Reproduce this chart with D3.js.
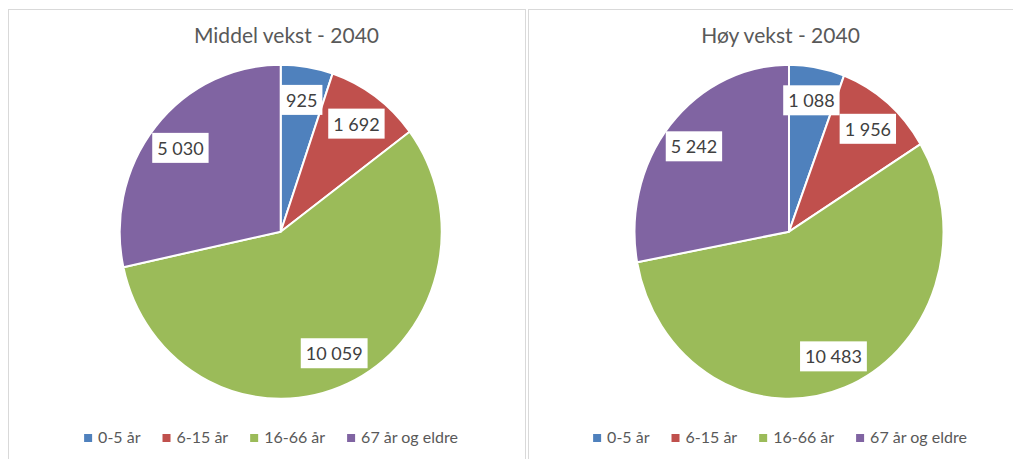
<!DOCTYPE html>
<html>
<head>
<meta charset="utf-8">
<script src="https://cdn.jsdelivr.net/npm/d3@7"></script>
<style>
  body { margin: 0; background: #fff; }
  text { font-family: Lato, "Open Sans", sans-serif; }
</style>
</head>
<body>
<script>
// Categories (legend) and the two series
var categories = ["0-5 år", "6-15 år", "16-66 år", "67 år og eldre"];
var titles = ["Middel vekst - 2040", "Høy vekst - 2040"];
var middelValues = [925, 1692, 10059, 5030];
var hoyValues = [1088, 1956, 10483, 5242];

var colors = ["#4F81BD", "#C0504D", "#9BBB59", "#8064A2"];
var color = d3.scaleOrdinal().domain(categories).range(colors);

// norwegian number format: space as thousands separator
var nb = d3.formatLocale({decimal: ",", thousands: " ", grouping: [3], currency: ["", " kr"]});
var fmt = nb.format(",d");

var svg = d3.select("body").append("svg")
  .attr("width", 1013)
  .attr("height", 459);

// panel layout (pie is slightly squashed horizontally, like in the source)
var panels = [
  {values: middelValues, title: titles[0], x0: 8.5, x1: 525.5, cx: 280.7, cy: 231.7, rx: 161, ry: 167, titleX: 286.5, legendX: 271},
  {values: hoyValues, title: titles[1], x0: 528.5, x1: 1030, cx: 789, cy: 231.7, rx: 154.5, ry: 167, titleX: 780.5, legendX: 780}
];

var pie = d3.pie().sort(null).value(d => d.value);

panels.forEach(function(p) {
  var g = svg.append("g");

  // chart border
  g.append("rect")
    .attr("x", p.x0)
    .attr("y", 9.5)
    .attr("width", p.x1 - p.x0)
    .attr("height", 480)
    .attr("fill", "#fff")
    .attr("stroke", "#d9d9d9")
    .attr("stroke-width", 1);

  g.append("text")
    .attr("x", p.titleX)
    .attr("y", 43)
    .attr("text-anchor", "middle")
    .attr("font-size", 21)
    .attr("fill", "#595959")
    .text(p.title);

  var data = categories.map((c, i) => ({cat: c, value: p.values[i]}));
  var arcs = pie(data);
  var sx = p.rx / p.ry;

  var arc = d3.arc().innerRadius(0).outerRadius(p.ry);
  var labelArc = d3.arc().innerRadius(p.ry * 0.8).outerRadius(p.ry * 0.8);

  g.append("g")
    .attr("transform", "translate(" + p.cx + "," + p.cy + ") scale(" + sx + ",1)")
    .selectAll("path")
    .data(arcs)
    .enter().append("path")
      .attr("d", arc)
      .attr("fill", d => color(d.data.cat))
      .attr("stroke", "#fff")
      .attr("stroke-width", 2)
      .attr("stroke-linejoin", "round")
      .attr("vector-effect", "non-scaling-stroke");

  // data labels in white boxes
  var labels = g.append("g")
    .attr("transform", "translate(" + p.cx + "," + p.cy + ")")
    .selectAll("g")
    .data(arcs)
    .enter().append("g")
      .attr("transform", function(d) {
        var c = labelArc.centroid(d);
        return "translate(" + (c[0] * sx) + "," + c[1] + ")";
      });

  labels.append("rect").attr("fill", "#fff");
  labels.append("text")
    .attr("text-anchor", "middle")
    .attr("dominant-baseline", "central")
    .attr("font-size", 18)
    .attr("fill", "#404040")
    .text(d => fmt(d.data.value));

  labels.each(function() {
    var t = d3.select(this).select("text");
    var w = t.node().getComputedTextLength();
    d3.select(this).select("rect")
      .attr("x", -w / 2 - 5)
      .attr("y", -15)
      .attr("width", w + 10)
      .attr("height", 30);
  });

  // legend, laid out from measured text widths then centred
  var leg = g.append("g");
  var xPos = 0;
  categories.forEach(function(c, i) {
    var item = leg.append("g").attr("transform", "translate(" + xPos + ",0)");
    item.append("rect")
      .attr("x", 0)
      .attr("y", 434)
      .attr("width", 8)
      .attr("height", 8)
      .attr("fill", color(c));
    var t = item.append("text")
      .attr("x", 14)
      .attr("y", 443)
      .attr("font-size", 16)
      .attr("fill", "#595959")
      .text(c);
    xPos += 14 + t.node().getComputedTextLength() + 22;
  });
  var legW = xPos - 22;
  leg.attr("transform", "translate(" + (p.legendX - legW / 2) + ",0)");
});
</script>
</body>
</html>
